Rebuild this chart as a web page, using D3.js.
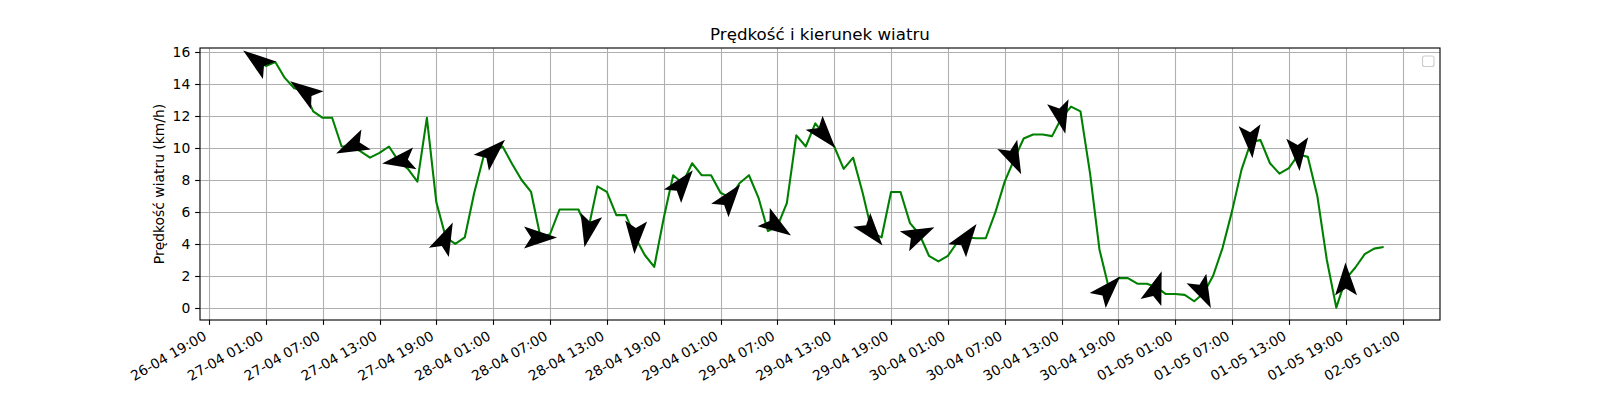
<!DOCTYPE html>
<html><head><meta charset="utf-8">
<script src="https://cdn.jsdelivr.net/npm/d3@7"></script>
<style>
body{margin:0;background:#fff}
svg{display:block}
text{font-family:"DejaVu Sans",sans-serif;fill:#000}
</style>
</head><body>
<svg id="chart" width="1600" height="400"></svg>
<script>
// ---------------- data ----------------
const chartTitle = "Prędkość i kierunek wiatru";
const yAxisLabel = "Prędkość wiatru (km/h)";
const startTime = "2024-04-27T00:00:00Z";   // first hourly sample
// hourly wind speed (km/h), 27-04 00:00 .. 01-05 23:00
const windSpeed = [
  15.5, 15.15, 15.4, 14.4, 13.75, 13.6, 12.3, 11.9, 11.9, 10.1,
  10.1, 9.8, 9.4, 9.7, 10.1, 9.2, 8.7, 7.9, 11.9, 6.6,
  4.4, 4.0, 4.4, 7.2, 9.5, 9.8, 10.1, 9.0, 8.0, 7.25,
  4.4, 4.6, 6.15, 6.15, 6.15, 4.8, 7.6, 7.25, 5.8, 5.8,
  4.4, 3.3, 2.55, 5.6, 8.3, 7.8, 9.05, 8.3, 8.3, 7.2,
  6.9, 7.8, 8.3, 6.9, 4.8, 5.1, 6.55, 10.8, 10.1, 11.55,
  10.8, 10.1, 8.7, 9.4, 7.2, 4.7, 4.4, 7.25, 7.25, 5.3,
  4.6, 3.25, 2.9, 3.25, 4.1, 4.4, 4.35, 4.35, 5.95, 7.9,
  9.3, 10.6, 10.85, 10.85, 10.75, 11.9, 12.6, 12.3, 8.45, 3.65,
  1.2, 1.85, 1.85, 1.5, 1.5, 1.3, 0.85, 0.85, 0.8, 0.4,
  0.9, 2.0, 3.75, 6.05, 8.65, 10.4, 10.5, 9.05, 8.4, 8.75,
  9.6, 9.45, 7.0, 3.0, 0.0, 1.8, 2.5, 3.35, 3.7, 3.8
];
// wind direction (degrees, meteorological "from"), one value every arrowStep hours
const arrowStep = 5;
const windDirection = [
  127, 125, 65, 81, 205, 226, 270, 12, 3, 218, 218, 304,
  320, 321, 245, 216, 335, 347, 223, 199, 334, 355, 356, 179
];
const xTickLabels = [
  "26-04 19:00","27-04 01:00","27-04 07:00","27-04 13:00","27-04 19:00",
  "28-04 01:00","28-04 07:00","28-04 13:00","28-04 19:00",
  "29-04 01:00","29-04 07:00","29-04 13:00","29-04 19:00",
  "30-04 01:00","30-04 07:00","30-04 13:00","30-04 19:00",
  "01-05 01:00","01-05 07:00","01-05 13:00","01-05 19:00","02-05 01:00"
];
const tickYear = "2024";
const yTicks = [0, 2, 4, 6, 8, 10, 12, 14, 16];

// ---------------- layout ----------------
const mLeft = 200, mRight = 1440, mTop = 48, mBottom = 320;
const pt = 100 / 72;
const tickFs = 10 * pt, titleFs = 12 * pt;

const svg = d3.select("#chart");

const t0 = new Date(startTime);
const times = windSpeed.map((_, i) => d3.utcHour.offset(t0, i));
const pts = windSpeed.map((v, i) => ({t: times[i], v}));

const tExt = d3.extent(times).map(d => +d);
const tPad = (tExt[1] - tExt[0]) * 0.05;
const x = d3.scaleUtc().domain([tExt[0] - tPad, tExt[1] + tPad]).range([mLeft, mRight]);
const vExt = d3.extent(windSpeed);
const vPad = (vExt[1] - vExt[0]) * 0.05;
const y = d3.scaleLinear().domain([vExt[0] - vPad, vExt[1] + vPad]).range([mBottom, mTop]);

const parseTick = d3.utcParse("%d-%m %H:%M %Y");
const xTicks = xTickLabels.map(s => ({date: parseTick(s + " " + tickYear), label: s}));

svg.append("defs").append("clipPath").attr("id", "clip")
  .append("rect").attr("x", mLeft).attr("y", mTop).attr("width", mRight - mLeft).attr("height", mBottom - mTop);

// grid
const grid = svg.append("g").attr("stroke", "#b0b0b0").attr("stroke-width", 0.8 * pt);
grid.selectAll(".gx").data(xTicks).join("line").attr("class", "gx")
  .attr("x1", d => Math.round(x(d.date)) + 0.5).attr("x2", d => Math.round(x(d.date)) + 0.5)
  .attr("y1", mTop).attr("y2", mBottom);
grid.selectAll(".gy").data(yTicks).join("line").attr("class", "gy")
  .attr("y1", d => Math.round(y(d)) + 0.5).attr("y2", d => Math.round(y(d)) + 0.5)
  .attr("x1", mLeft).attr("x2", mRight);

// line
svg.append("path").datum(pts)
  .attr("clip-path", "url(#clip)")
  .attr("fill", "none").attr("stroke", "#008000").attr("stroke-width", 1.5 * pt)
  .attr("stroke-linejoin", "round")
  .attr("d", d3.line().x(d => x(d.t)).y(d => y(d.v)));

// arrows
const L = 33, hw = 11, notch = 7;
const arrowPath = `M${L/2},0 L${-L/2},${-hw} L${-L/2 + notch},0 L${-L/2},${hw} Z`;
const arrows = windDirection.map((deg, k) => {
  const i = k * arrowStep;
  const r = deg * Math.PI / 180;
  const U = -Math.sin(r), V = -Math.cos(r);
  const ang = Math.atan2(-V, U) * 180 / Math.PI; // screen angle
  return {t: times[i], v: windSpeed[i], ang};
});
svg.append("g").attr("clip-path", "url(#clip)")
  .selectAll("path").data(arrows).join("path")
  .attr("d", arrowPath).attr("fill", "#000")
  .attr("transform", d => `translate(${x(d.t)},${y(d.v)}) rotate(${d.ang})`);

// spines
svg.append("rect").attr("x", mLeft).attr("y", mTop).attr("width", mRight - mLeft).attr("height", mBottom - mTop)
  .attr("fill", "none").attr("stroke", "#000").attr("stroke-width", 0.8 * pt);

// x ticks
const tl = 3.5 * pt, pad = 3.5 * pt;
const xAxis = svg.append("g");
xAxis.selectAll("line").data(xTicks).join("line")
  .attr("x1", d => Math.round(x(d.date)) + 0.5).attr("x2", d => Math.round(x(d.date)) + 0.5)
  .attr("y1", mBottom).attr("y2", mBottom + tl)
  .attr("stroke", "#000").attr("stroke-width", 0.8 * pt);
const lpH = 0.968 * tickFs, lpD = 0.208 * tickFs;
const ay = mBottom + tl + pad;
xAxis.selectAll("text").data(xTicks).join("text")
  .attr("font-size", tickFs).attr("text-anchor", "end")
  .attr("transform", d => `translate(${x(d.date) - 0.5 * lpD},${ay + 0.866 * (lpH - lpD)}) rotate(-30)`)
  .text(d => d.label);

// y ticks
const yAxis = svg.append("g");
yAxis.selectAll("line").data(yTicks).join("line")
  .attr("x1", mLeft - tl).attr("x2", mLeft)
  .attr("y1", d => Math.round(y(d)) + 0.5).attr("y2", d => Math.round(y(d)) + 0.5)
  .attr("stroke", "#000").attr("stroke-width", 0.8 * pt);
yAxis.selectAll("text").data(yTicks).join("text")
  .attr("font-size", tickFs).attr("text-anchor", "end")
  .attr("x", mLeft - tl - pad).attr("y", d => y(d)).attr("dy", "0.364em")
  .text(d => d);

// y label
svg.append("text").attr("font-size", tickFs).attr("text-anchor", "middle")
  .attr("transform", `translate(163.5,${(mTop + mBottom) / 2}) rotate(-90)`)
  .text(yAxisLabel);

// title
svg.append("text").attr("font-size", titleFs).attr("text-anchor", "middle")
  .attr("x", (mLeft + mRight) / 2).attr("y", mTop - 6 * pt)
  .text(chartTitle);

// empty legend frame
svg.append("rect").attr("x", 1422.5).attr("y", 56).attr("width", 11.5).attr("height", 10.5)
  .attr("rx", 2).attr("fill", "#fff").attr("fill-opacity", 0.8)
  .attr("stroke", "#cccccc").attr("stroke-width", 0.8 * pt);
</script>
</body></html>
